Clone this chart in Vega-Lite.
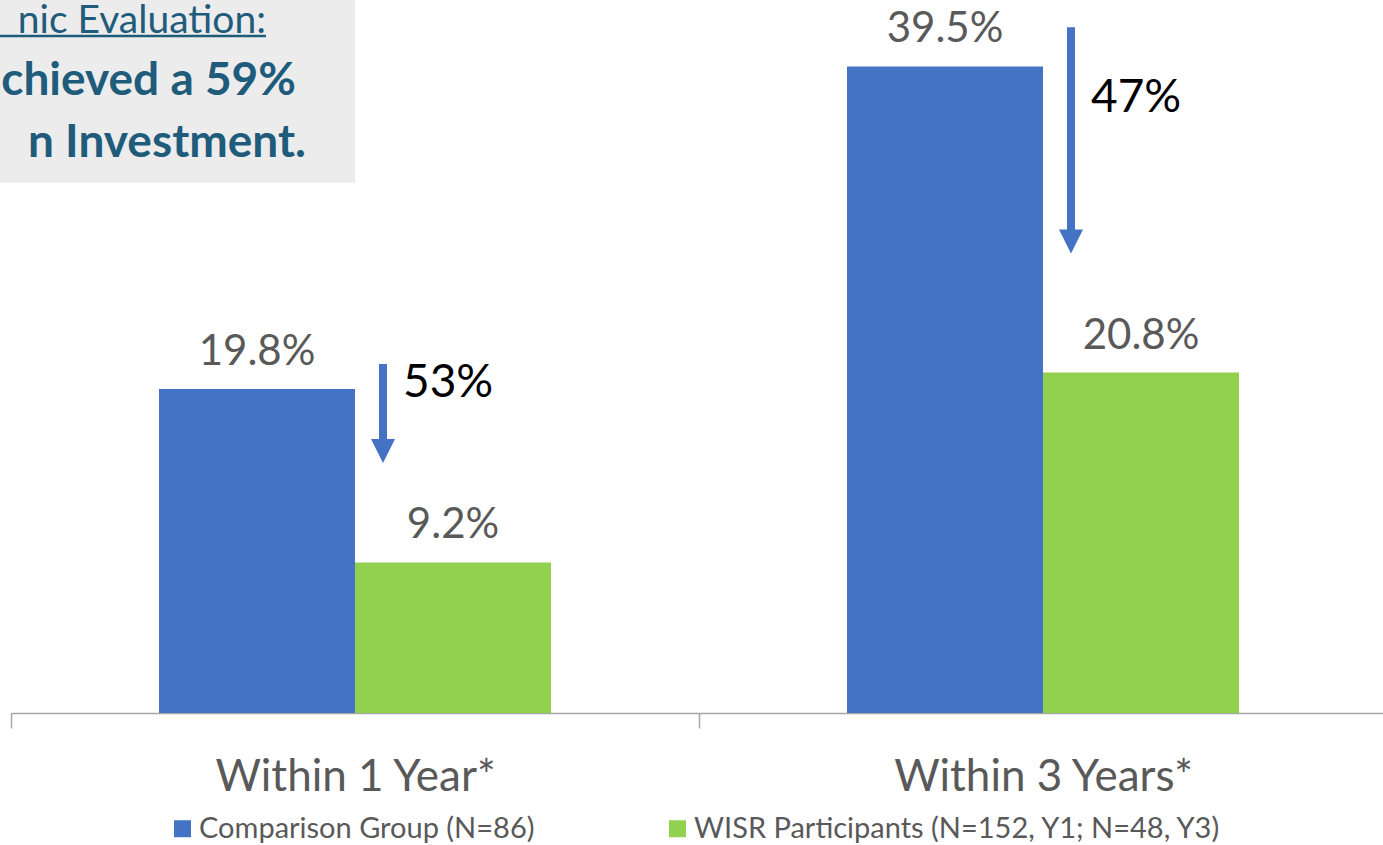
{
  "$schema": "https://vega.github.io/schema/vega-lite/v6.json",
  "autosize": {"type": "none"},
  "width": 1372,
  "height": 713,
  "padding": {"left": 11, "top": 0, "right": 0, "bottom": 132},
  "background": "white",
  "config": {"view": {"stroke": null}, "font": "Lato"},
  "datasets": {
    "bars": [
      {"period": "Within 1 Year*", "group": "Comparison Group (N=86)", "rate": 19.8, "label": "19.8%"},
      {"period": "Within 1 Year*", "group": "WISR Participants (N=152, Y1; N=48, Y3)", "rate": 9.2, "label": "9.2%"},
      {"period": "Within 3 Years*", "group": "Comparison Group (N=86)", "rate": 39.5, "label": "39.5%"},
      {"period": "Within 3 Years*", "group": "WISR Participants (N=152, Y1; N=48, Y3)", "rate": 20.8, "label": "20.8%"}
    ],
    "arrows": [
      {"period": "Within 1 Year*", "top": 21.32, "bottom": 16.2, "head": 16.0, "pct": "53%", "textY": 19.3},
      {"period": "Within 3 Years*", "top": 41.9, "bottom": 29.0, "head": 28.8, "pct": "47%", "textY": 36.71}
    ],
    "box": [{"x0": -0.05, "x1": 0.5, "y0": 32.4, "y1": 43.56}],
    "underline": [{"x0": -0.05, "x1": 0.3706, "y": 41.36}],
    "headline": [
      {"line": "nic Evaluation:", "part": "heading", "xEnd": 0.3706, "base": 41.52},
      {"line": "chieved a 59%", "part": "claim", "xEnd": 0.4142, "base": 37.75},
      {"line": "n Investment.", "part": "claim", "xEnd": 0.4288, "base": 33.96}
    ]
  },
  "resolve": {"scale": {"x": "independent"}},
  "layer": [
    {
      "data": {"name": "box"},
      "mark": {"type": "rect", "color": "#ECECEC"},
      "encoding": {
        "x": {"field": "x0", "type": "quantitative", "scale": {"domain": [0, 2], "range": [0, 1376], "nice": false, "zero": false}, "axis": null},
        "x2": {"field": "x1"},
        "y": {"field": "y0", "type": "quantitative", "scale": {"domain": [0, 43.56], "nice": false}, "axis": null},
        "y2": {"field": "y1"}
      }
    },
    {
      "data": {"name": "underline"},
      "mark": {"type": "rule", "color": "#1F5B7A", "strokeWidth": 2.5},
      "encoding": {
        "x": {"field": "x0", "type": "quantitative", "scale": {"domain": [0, 2], "range": [0, 1376], "nice": false, "zero": false}, "axis": null},
        "x2": {"field": "x1"},
        "y": {"field": "y", "type": "quantitative", "scale": {"domain": [0, 43.56], "nice": false}, "axis": null}
      }
    },
    {
      "data": {"name": "headline"},
      "transform": [{"filter": "datum.part === 'heading'"}],
      "mark": {"type": "text", "align": "right", "baseline": "alphabetic", "font": "Lato", "fontSize": 39, "fontWeight": "normal", "color": "#1F5B7A"},
      "encoding": {
        "x": {"field": "xEnd", "type": "quantitative", "scale": {"domain": [0, 2], "range": [0, 1376], "nice": false, "zero": false}, "axis": null},
        "y": {"field": "base", "type": "quantitative", "scale": {"domain": [0, 43.56], "nice": false}, "axis": null},
        "text": {"field": "line"}
      }
    },
    {
      "data": {"name": "headline"},
      "transform": [{"filter": "datum.part === 'claim'"}],
      "mark": {"type": "text", "align": "right", "baseline": "alphabetic", "font": "Lato", "fontSize": 46, "fontWeight": "bold", "color": "#1F5B7A"},
      "encoding": {
        "x": {"field": "xEnd", "type": "quantitative", "scale": {"domain": [0, 2], "range": [0, 1376], "nice": false, "zero": false}, "axis": null},
        "y": {"field": "base", "type": "quantitative", "scale": {"domain": [0, 43.56], "nice": false}, "axis": null},
        "text": {"field": "line"}
      }
    },
    {
      "layer": [
        {
          "data": {"name": "bars"},
          "mark": {"type": "bar"},
          "encoding": {
            "x": {
              "field": "period", "type": "nominal", "sort": null, "title": null,
              "scale": {"range": [0, 1376], "paddingInner": 0, "paddingOuter": 0},
              "axis": {
                "domainColor": "#a6a6a6", "domainWidth": 1.5, "tickColor": "#a6a6a6", "tickWidth": 1.5,
                "tickSize": 15, "tickBand": "extent", "labelFont": "Lato", "labelFontSize": 44,
                "labelColor": "#595959", "labelPadding": 62, "labelBaseline": "alphabetic",
                "labelAngle": 0, "labelLimit": 0, "grid": false, "title": null
              }
            },
            "xOffset": {"field": "group", "type": "nominal", "sort": null, "scale": {"paddingInner": 0, "paddingOuter": 0.755}},
            "y": {"field": "rate", "type": "quantitative", "scale": {"domain": [0, 43.56], "nice": false}, "axis": null},
            "color": {
              "field": "group", "type": "nominal", "sort": null,
              "scale": {"range": ["#4472C4", "#92D050"]},
              "legend": {
                "orient": "none", "legendX": 157, "legendY": 814, "direction": "horizontal", "title": null,
                "symbolType": "square", "symbolSize": 289, "symbolStrokeWidth": 0, "symbolOpacity": 1,
                "labelFont": "Lato", "labelFontSize": 29, "labelColor": "#595959", "labelOffset": 2,
                "columnPadding": 128, "padding": 0, "labelLimit": 0
              }
            }
          }
        },
        {
          "data": {"name": "bars"},
          "mark": {"type": "text", "align": "center", "baseline": "alphabetic", "dy": -24, "font": "Lato", "fontSize": 42, "color": "#595959"},
          "encoding": {
            "x": {"field": "period", "type": "nominal", "sort": null, "title": null},
            "xOffset": {"field": "group", "type": "nominal", "sort": null},
            "y": {"field": "rate", "type": "quantitative", "scale": {"domain": [0, 43.56], "nice": false}, "axis": null},
            "text": {"field": "label"}
          }
        },
        {
          "data": {"name": "arrows"},
          "mark": {"type": "rule", "strokeWidth": 8, "color": "#4472C4", "xOffset": 28},
          "encoding": {
            "x": {"field": "period", "type": "nominal", "sort": null, "title": null},
            "y": {"field": "top", "type": "quantitative", "scale": {"domain": [0, 43.56], "nice": false}, "axis": null},
            "y2": {"field": "bottom"}
          }
        },
        {
          "data": {"name": "arrows"},
          "mark": {"type": "point", "shape": "M-1,-1L1,-1L0,1Z", "size": 576, "filled": true, "color": "#4472C4", "opacity": 1, "strokeWidth": 0, "xOffset": 28},
          "encoding": {
            "x": {"field": "period", "type": "nominal", "sort": null, "title": null},
            "y": {"field": "head", "type": "quantitative", "scale": {"domain": [0, 43.56], "nice": false}, "axis": null}
          }
        },
        {
          "data": {"name": "arrows"},
          "mark": {"type": "text", "align": "left", "baseline": "alphabetic", "dx": 48, "font": "Lato", "fontSize": 46, "color": "#000000"},
          "encoding": {
            "x": {"field": "period", "type": "nominal", "sort": null, "title": null},
            "y": {"field": "textY", "type": "quantitative", "scale": {"domain": [0, 43.56], "nice": false}, "axis": null},
            "text": {"field": "pct"}
          }
        }
      ]
    }
  ]
}
